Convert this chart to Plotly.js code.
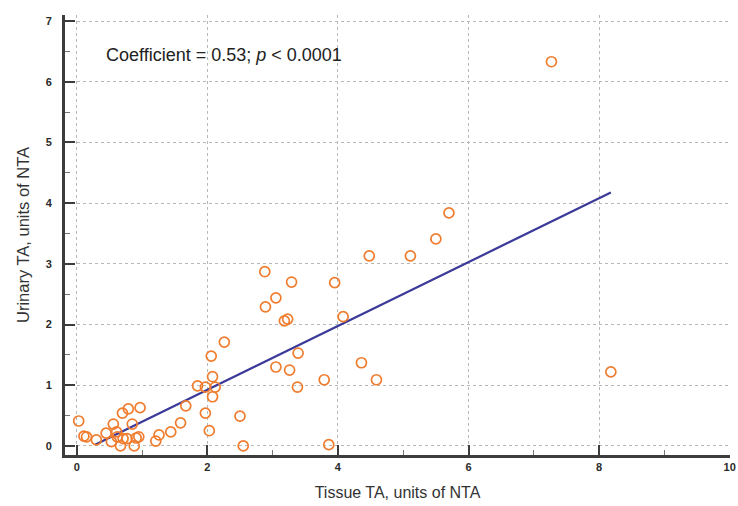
<!DOCTYPE html>
<html>
<head>
<meta charset="utf-8">
<script src="https://cdn.plot.ly/plotly-3.0.1.min.js"></script>
<style>html,body{margin:0;padding:0;background:#fff;}#chart{width:738px;height:506px;}</style>
</head>
<body>
<div id="chart"></div>
<script>
// Tissue TA (x) and Urinary TA (y), units of NTA
const tissueTA = [0.03, 0.11, 0.15, 0.30, 0.45, 0.56, 0.70, 0.79, 0.97, 0.85,
  0.53, 0.67, 0.62, 0.71, 0.77, 0.88, 0.91, 0.95, 0.61, 1.21,
  1.26, 1.44, 1.59, 1.67, 1.97, 2.03, 2.50, 2.55, 1.85, 1.97,
  2.12, 2.08, 2.06, 2.08, 2.26, 2.88, 3.29, 3.95, 3.05, 2.89,
  3.23, 3.18, 4.08, 3.39, 3.05, 3.26, 3.38, 3.79, 4.36, 4.59,
  3.86, 4.48, 5.11, 5.50, 5.70, 7.27, 8.18];
const urinaryTA = [0.41, 0.16, 0.15, 0.10, 0.21, 0.36, 0.54, 0.61, 0.63, 0.36,
  0.07, 0.00, 0.15, 0.12, 0.12, 0.00, 0.13, 0.15, 0.23, 0.08,
  0.18, 0.23, 0.38, 0.66, 0.54, 0.25, 0.49, 0.00, 0.99, 0.97,
  0.97, 1.14, 1.48, 0.81, 1.71, 2.87, 2.70, 2.69, 2.44, 2.29,
  2.09, 2.06, 2.13, 1.53, 1.30, 1.25, 0.97, 1.09, 1.37, 1.09,
  0.02, 3.13, 3.13, 3.41, 3.84, 6.33, 1.22];
// Regression line
const fitSlope = 0.526;
const fitIntercept = -0.128;
const fitXRange = [0.28, 8.18];
const xTickVals = [0, 2, 4, 6, 8, 10];
const yTickVals = [0, 1, 2, 3, 4, 5, 6, 7];

const fitY = fitXRange.map(x => fitSlope * x + fitIntercept);

const axisColor = '#3c3c3c';
const tickFont = {family: 'Liberation Sans, Arial, sans-serif', size: 11, color: '#2a2a2a', weight: 'bold'};

const traces = [
  {
    x: fitXRange, y: fitY, mode: 'lines', type: 'scatter',
    line: {color: '#3b3a99', width: 2.2}, hoverinfo: 'skip', showlegend: false
  },
  {
    x: tissueTA, y: urinaryTA, mode: 'markers', type: 'scatter',
    marker: {symbol: 'circle-open', size: 10, color: '#f07c2e', line: {width: 1.7, color: '#f07c2e'}},
    showlegend: false
  }
];

const layout = {
  width: 738, height: 506,
  margin: {l: 65, r: 8, t: 15, b: 51},
  paper_bgcolor: '#fff', plot_bgcolor: '#fff',
  showlegend: false,
  xaxis: {
    range: [-0.18, 10.005], tickvals: xTickVals, ticktext: xTickVals.map(String),
    showline: true, linecolor: axisColor, linewidth: 3,
    ticks: 'inside', ticklen: 10, tickwidth: 2, tickcolor: axisColor,
    minor: {ticks: 'inside', ticklen: 5, tickwidth: 1, tickcolor: '#777', dtick: 1, tick0: 0, showgrid: false},
    showgrid: true, gridcolor: '#b8b8b8', griddash: 'dot', gridwidth: 1,
    zeroline: false, tickfont: tickFont, ticklabeloverflow: 'allow',
    title: {text: 'Tissue TA, units of NTA', font: {family: 'Liberation Sans, Arial, sans-serif', size: 16, color: '#333'}, standoff: 15}
  },
  yaxis: {
    range: [-0.15, 7.1], tickvals: yTickVals, ticktext: yTickVals.map(String),
    showline: true, linecolor: axisColor, linewidth: 3,
    ticks: 'inside', ticklen: 10, tickwidth: 2, tickcolor: axisColor,
    minor: {ticks: 'inside', ticklen: 5, tickwidth: 1, tickcolor: '#777', dtick: 0.5, tick0: 0, showgrid: false},
    showgrid: true, gridcolor: '#b8b8b8', griddash: 'dot', gridwidth: 1,
    zeroline: false, tickfont: tickFont, ticklabelstandoff: 8,
    title: {text: 'Urinary TA, units of NTA', font: {family: 'Liberation Sans, Arial, sans-serif', size: 16.5, color: '#333'}, standoff: 12}
  },
  annotations: [{
    x: 0.42, y: 6.44, xref: 'x', yref: 'y', xanchor: 'left', yanchor: 'middle',
    text: 'Coefficient = 0.53; <i>p</i> < 0.0001', showarrow: false,
    font: {family: 'Liberation Sans, Arial, sans-serif', size: 18, color: '#222'}
  }]
};

Plotly.newPlot('chart', traces, layout, {displayModeBar: false, staticPlot: true});
</script>
</body>
</html>
